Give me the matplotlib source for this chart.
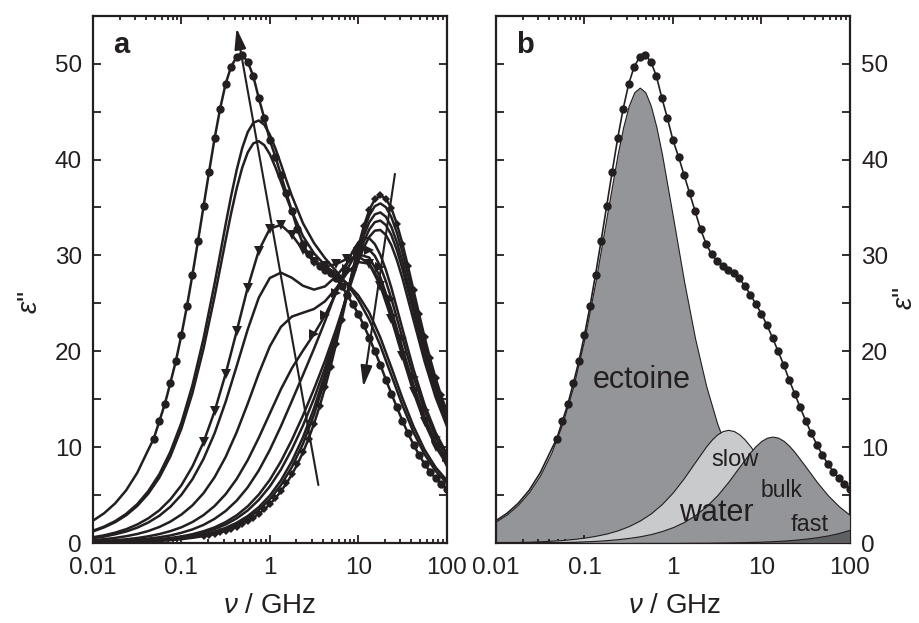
import numpy as np
import matplotlib
matplotlib.use("Agg")
import matplotlib.pyplot as plt

plt.rcParams['font.family'] = ['Liberation Sans', 'DejaVu Sans']
plt.rcParams['mathtext.fontset'] = 'custom'
plt.rcParams['mathtext.rm'] = 'Liberation Sans'
plt.rcParams['mathtext.it'] = 'Liberation Sans:italic'

# frequency grid (GHz), 8 points per decade, and the mid points between them
freq = np.logspace(-2, 2, 33)
freq_mid = np.logspace(-1.3125, 1.9375, 27)      # mid points 5.5 ... 31.5
freq_mid_ect = np.logspace(-0.5625, 0.1875, 7)   # mid points 11.5 ... 17.5
freq_mid_w7 = np.logspace(0.9375, 1.3125, 4)     # mid points 23.5 ... 26.5
freq_mid_w8 = np.logspace(0.9375, 1.3125, 4)
freq_mid_w9 = np.logspace(1.0625, 1.4375, 4)     # mid points 24.5 ... 27.5
freq_mid_eb = np.logspace(-0.5625, -0.1875, 4)   # mid points 11.5 ... 14.5
freq_mid_sb = np.logspace(0.4375, 0.8125, 4)     # mid points 19.5 ... 22.5
freq_mid_bb = np.logspace(0.9375, 1.3125, 4)     # mid points 23.5 ... 26.5

# dielectric loss spectra, highest ectoine concentration (a01) to pure water (a13)
eps_a01 = [2.33, 3.10, 4.13, 5.50, 7.32, 9.72, 12.7, 16.7, 21.7, 28.0, 35.1, 42.2, 47.9,
           50.7, 50.2, 46.4, 42.0, 38.4, 34.6, 31.2, 29.4, 28.5, 27.6, 25.9, 23.9,
           21.4, 18.6, 15.58, 12.75, 10.27, 8.24, 6.73, 5.68]
eps_a01_mid = [10.9, 14.5, 19.0, 24.7, 31.5, 38.7, 45.3, 49.7, 50.9, 48.7, 44.3, 40.3,
               36.5, 32.7, 30.1, 28.9, 28.2, 26.8, 24.9, 22.7, 20.0, 17.03, 14.14, 11.45,
               9.20, 7.44, 6.16]
eps_a02 = [1.28, 1.71, 2.28, 3.04, 4.05, 5.41, 7.17, 9.52, 12.55, 16.47, 21.33, 27.06, 33.23,
           38.91, 42.86, 44.07, 42.59, 39.54, 36.19, 33.35, 31.28, 29.70, 28.36, 26.97, 25.38,
           23.28, 20.58, 17.48, 14.36, 11.55, 9.25, 7.51, 6.27]
eps_a02_mid = [30.12, 36.21, 41.19, 43.83, 43.62, 41.17, 37.82]
eps_a03 = [1.21, 1.63, 2.17, 2.89, 3.86, 5.14, 6.82, 9.04, 11.94, 15.65, 20.27, 25.71, 31.57,
           36.99, 40.74, 41.91, 40.55, 37.69, 34.57, 32.00, 30.21, 28.97, 28.01, 27.07, 25.84,
           24.02, 21.43, 18.31, 15.09, 12.16, 9.73, 7.89, 6.56]
eps_a03_mid = [28.63, 34.41, 39.15, 41.68, 41.50, 39.21, 36.09]
eps_a04 = [0.60, 0.80, 1.08, 1.44, 1.93, 2.57, 3.41, 4.55, 6.03, 7.99, 10.51, 13.73, 17.64,
           22.09, 26.65, 30.50, 32.79, 33.18, 32.13, 30.57, 29.36, 28.86, 29.08, 29.66, 29.91,
           29.10, 26.82, 23.38, 19.48, 15.75, 12.57, 10.06, 8.22]
eps_a05 = [0.51, 0.67, 0.91, 1.20, 1.60, 2.14, 2.84, 3.78, 5.03, 6.66, 8.77, 11.44, 14.72,
           18.45, 22.28, 25.59, 27.64, 28.20, 27.66, 26.83, 26.43, 26.77, 27.83, 29.21, 30.12,
           29.77, 27.73, 24.33, 20.32, 16.47, 13.14, 10.50, 8.56]
eps_a06 = [0.31, 0.40, 0.53, 0.71, 0.94, 1.25, 1.67, 2.23, 2.97, 3.93, 5.20, 6.86, 8.97,
           11.56, 14.54, 17.68, 20.51, 22.54, 23.62, 24.02, 24.41, 25.22, 26.57, 28.18, 29.31,
           29.13, 27.24, 23.95, 20.04, 16.25, 12.98, 10.39, 8.46]
eps_a07 = [0.16, 0.23, 0.29, 0.39, 0.52, 0.70, 0.93, 1.24, 1.64, 2.19, 2.91, 3.86, 5.09,
           6.68, 8.65, 10.98, 13.51, 16.03, 18.24, 20.07, 21.80, 23.75, 26.10, 28.55, 30.33,
           30.57, 28.83, 25.48, 21.37, 17.34, 13.84, 11.05, 8.98]
eps_a07_mid = [29.58, 30.69, 29.95, 27.30]
eps_a08 = [0.10, 0.14, 0.19, 0.25, 0.34, 0.46, 0.60, 0.79, 1.07, 1.42, 1.89, 2.52, 3.34,
           4.42, 5.81, 7.57, 9.71, 12.17, 14.83, 17.53, 20.27, 23.15, 26.21, 29.20, 31.35,
           31.78, 30.06, 26.61, 22.33, 18.12, 14.44, 11.52, 9.34]
eps_a08_mid = [30.43, 31.82, 31.18, 28.49]
eps_a09 = [0.07, 0.10, 0.12, 0.16, 0.22, 0.30, 0.40, 0.52, 0.69, 0.92, 1.23, 1.63, 2.18,
           2.89, 3.83, 5.05, 6.59, 8.51, 10.77, 13.30, 16.07, 19.03, 22.32, 25.89, 29.36,
           31.94, 32.65, 31.06, 27.60, 23.26, 18.95, 15.20, 12.25]
eps_a09_mid = [30.82, 32.58, 32.13, 29.50]
eps_a10 = [0.07, 0.08, 0.10, 0.14, 0.20, 0.27, 0.35, 0.46, 0.61, 0.82, 1.09, 1.45, 1.93,
           2.57, 3.40, 4.50, 5.90, 7.65, 9.79, 12.25, 15.08, 18.27, 21.90, 25.88, 29.78,
           32.71, 33.63, 32.11, 28.58, 24.11, 19.64, 15.76, 12.66]
eps_a10_mid = [31.43, 33.47, 33.16, 30.53]
eps_a11 = [0.05, 0.07, 0.09, 0.12, 0.16, 0.23, 0.28, 0.38, 0.50, 0.67, 0.89, 1.19, 1.58,
           2.11, 2.81, 3.74, 4.94, 6.52, 8.53, 11.03, 14.07, 17.63, 21.70, 26.09, 30.31,
           33.45, 34.48, 32.97, 29.37, 24.78, 20.18, 16.18, 12.99]
eps_a11_mid = [32.07, 34.28, 34.03, 31.36]
eps_a12 = [0.05, 0.06, 0.08, 0.11, 0.15, 0.20, 0.26, 0.34, 0.46, 0.61, 0.82, 1.09, 1.45,
           1.94, 2.57, 3.43, 4.55, 6.03, 7.93, 10.35, 13.39, 17.05, 21.36, 26.09, 30.69,
           34.17, 35.42, 33.98, 30.32, 25.60, 20.85, 16.71, 13.41]
eps_a12_mid = [32.64, 35.13, 35.03, 32.35]
eps_a13 = [0.04, 0.05, 0.07, 0.09, 0.13, 0.17, 0.23, 0.30, 0.40, 0.54, 0.72, 0.96, 1.28,
           1.71, 2.28, 3.04, 4.05, 5.39, 7.16, 9.46, 12.46, 16.22, 20.78, 25.89, 30.90,
           34.75, 36.25, 34.90, 31.21, 26.38, 21.49, 17.21, 13.79]
eps_a13_mid = [0.63, 0.83, 1.11, 1.48, 1.97, 2.64, 3.51, 4.67, 6.21, 8.24, 10.87, 14.24,
               18.41, 23.29, 28.46, 33.04, 35.85, 35.92, 33.27, 28.86, 23.89, 19.25, 15.39]

# relaxation contributions of the most concentrated solution
ectoine_b = [2.25, 3.00, 4.00, 5.33, 7.09, 9.41, 12.45, 16.38, 21.33, 27.31, 34.01, 40.58, 45.60,
             47.50, 45.60, 40.58, 34.01, 27.31, 21.33, 16.38, 12.45, 9.41, 7.09, 5.33, 4.00,
             3.00, 2.25, 1.69, 1.26, 0.95, 0.71, 0.53, 0.40]
ectoine_b_mid = [43.39, 47.02, 47.02, 43.39]
slow_b = [0.06, 0.08, 0.10, 0.13, 0.18, 0.24, 0.31, 0.42, 0.56, 0.75, 0.99, 1.32, 1.76,
          2.34, 3.09, 4.07, 5.30, 6.79, 8.45, 10.08, 11.33, 11.80, 11.33, 10.08, 8.45,
          6.79, 5.30, 4.07, 3.09, 2.34, 1.76, 1.32, 0.99]
slow_b_mid = [10.78, 11.68, 11.68, 10.78]
bulk_b = [0.02, 0.02, 0.03, 0.04, 0.05, 0.07, 0.09, 0.12, 0.17, 0.22, 0.30, 0.40, 0.53,
          0.70, 0.93, 1.25, 1.66, 2.20, 2.91, 3.83, 4.98, 6.38, 7.95, 9.48, 10.66,
          11.10, 10.66, 9.48, 7.95, 6.38, 4.98, 3.83, 2.91]
bulk_b_mid = [10.14, 10.99, 10.99, 10.14]
fast_b = [0.0, 0.0, 0.0, 0.0, 0.0, 0.0, 0.0, 0.0, 0.0, 0.0, 0.0, 0.0, 0.0,
          0.01, 0.01, 0.01, 0.01, 0.02, 0.03, 0.03, 0.05, 0.06, 0.08, 0.11, 0.14,
          0.19, 0.25, 0.34, 0.45, 0.60, 0.79, 1.05, 1.38]

x_ticks = [0.01, 0.1, 1, 10, 100]
x_tick_labels = ['0.01', '0.1', '1', '10', '100']
y_ticks = [0, 10, 20, 30, 40, 50]

# arrows: ectoine mode grows, water mode drops with concentration
arrow_ectoine = ((3.54, 6.05), (0.42, 53.7))
arrow_water = ((26.0, 38.5), (11.4, 16.3))

ink = '#231f20'
grey_dark = '#939598'
grey_light = '#c9cacc'
grey_fast = '#5f6063'


def merged(f_a, e_a, f_b=None, e_b=None):
    """Join two sets of (frequency, value) samples sorted by frequency."""
    f = np.asarray(f_a, float)
    e = np.asarray(e_a, float)
    if f_b is not None:
        f = np.concatenate([f, f_b])
        e = np.concatenate([e, e_b])
    k = np.argsort(f)
    return f[k], e[k]


fig = plt.figure(figsize=(9.2, 6.23), dpi=100)
ax_a = fig.add_axes([0.1011, 0.1284, 0.3844, 0.8464])
ax_b = fig.add_axes([0.5391, 0.1284, 0.3848, 0.8464])

fit_f, fit_e = merged(freq, eps_a01, freq_mid, eps_a01_mid)
c_f, c_e = fit_f[fit_f > 0.045], fit_e[fit_f > 0.045]
w_f, w_e = merged(freq, eps_a13, freq_mid[4:], eps_a13_mid)

line_kw = dict(color=ink, lw=1.8, solid_joinstyle='round')

# ---- panel a
spectra = [
    merged(freq, eps_a02, freq_mid_ect, eps_a02_mid),
    merged(freq, eps_a03, freq_mid_ect, eps_a03_mid),
    merged(freq, eps_a04),
    merged(freq, eps_a05),
    merged(freq, eps_a06),
    merged(freq, eps_a07, freq_mid_w7, eps_a07_mid),
    merged(freq, eps_a08, freq_mid_w8, eps_a08_mid),
    merged(freq, eps_a09, freq_mid_w9, eps_a09_mid),
    merged(freq, eps_a10, freq_mid_w9, eps_a10_mid),
    merged(freq, eps_a11, freq_mid_w9, eps_a11_mid),
    merged(freq, eps_a12, freq_mid_w9, eps_a12_mid),
    (w_f, w_e),
]
for f, e in spectra:
    ax_a.plot(f, e, **line_kw)
ax_a.plot(fit_f, fit_e, **line_kw)
ax_a.plot(c_f, c_e, 'o', color=ink, ms=6, mew=0)
ax_a.plot(freq[10:], eps_a04[10:], 'v', color=ink, ms=6.5, mew=0)
ax_a.plot(freq[20:], eps_a07[20:], '>', color=ink, ms=6.5, mew=0)
sel = w_f > 0.17
ax_a.plot(w_f[sel], w_e[sel], 'D', color=ink, ms=4.5, mew=0)

for (tail, head) in (arrow_ectoine, arrow_water):
    ax_a.annotate('', xy=head, xytext=tail,
                  arrowprops=dict(arrowstyle='-|>,head_length=0.9,head_width=0.25',
                                  color=ink, lw=1.5, mutation_scale=14,
                                  shrinkA=0, shrinkB=0))

# ---- panel b
components = [
    (merged(freq, ectoine_b, freq_mid_eb, ectoine_b_mid), grey_dark),
    (merged(freq, slow_b, freq_mid_sb, slow_b_mid), grey_light),
    (merged(freq, bulk_b, freq_mid_bb, bulk_b_mid), grey_dark),
    (merged(freq, fast_b), grey_fast),
]
for z, ((f, e), col) in enumerate(components, start=1):
    ax_b.fill_between(f, 0, e, facecolor=col, edgecolor=ink, lw=0.8, zorder=z)
ax_b.plot(fit_f, fit_e, color=ink, lw=1.2, zorder=5)
ax_b.plot(c_f, c_e, 'o', color=ink, ms=6, mew=0, zorder=6)

ax_b.text(0.44, 17.0, 'ectoine', fontsize=22, ha='center', va='center', color=ink, zorder=7)
ax_b.text(5.0, 8.7, 'slow', fontsize=17, ha='center', va='center', color=ink, zorder=7)
ax_b.text(3.1, 3.1, 'water', fontsize=22, ha='center', va='center', color=ink, zorder=7)
ax_b.text(16.9, 5.5, 'bulk', fontsize=16.5, ha='center', va='center', color=ink, zorder=7)
ax_b.text(34.7, 1.9, 'fast', fontsize=17, ha='center', va='center', color=ink, zorder=7)

for ax, tag in ((ax_a, 'a'), (ax_b, 'b')):
    ax.set_xscale('log')
    ax.set_xlim(0.01, 100)
    ax.set_ylim(0, 55)
    ax.set_xticks(x_ticks, labels=x_tick_labels)
    ax.set_yticks(y_ticks)
    ax.set_yticks(np.arange(5, 55, 10), minor=True)
    ax.xaxis.set_minor_locator(matplotlib.ticker.LogLocator(base=10, subs=np.arange(2, 10)))
    ax.xaxis.set_minor_formatter(matplotlib.ticker.NullFormatter())
    ax.tick_params(which='both', direction='in', top=True, right=True, width=1.3,
                   labelsize=17.5, colors=ink)
    ax.tick_params(axis='x', which='major', length=6, pad=10)
    ax.tick_params(axis='x', which='minor', length=3)
    ax.tick_params(axis='y', which='both', length=5.5, pad=8)
    for sp in ax.spines.values():
        sp.set_linewidth(1.6)
        sp.set_color(ink)
    ax.text(0.057, 0.944, tag, transform=ax.transAxes, fontsize=21, fontweight='bold',
            ha='left', va='center', color=ink)

ax_b.tick_params(axis='y', which='both', labelleft=False, labelright=True)

fig.text(270 / 920, 1 - 606 / 623, r'$\nu$ / GHz', fontsize=20, ha='center', va='center',
         color=ink)
fig.text(675 / 920, 1 - 606 / 623, r'$\nu$ / GHz', fontsize=20, ha='center', va='center',
         color=ink)
fig.text(30 / 920, 1 - 302 / 623, r"$\varepsilon$''", fontsize=20, rotation=90,
         ha='center', va='center', color=ink)
fig.text(905 / 920, 1 - 298 / 623, r"$\varepsilon$''", fontsize=20, rotation=90,
         ha='center', va='center', color=ink)

fig.savefig('out.png', dpi=100)
